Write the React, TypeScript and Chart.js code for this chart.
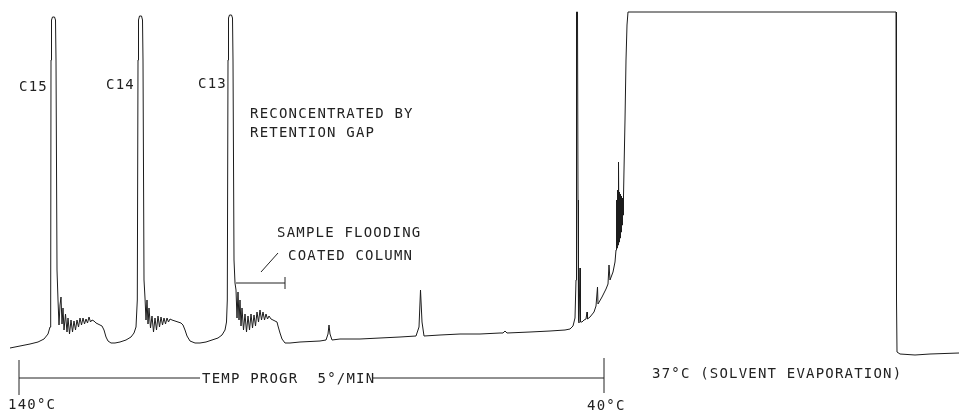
import React, { useEffect, useRef } from 'react';
import { Chart, registerables } from 'chart.js';

Chart.register(...registerables);

// x: position along the recording (chart units), signal: detector response (chart units)
const leftBaselineAndC15: [number, number][] = [
  [10, 52], [20, 54], [30, 56], [38, 58], [44, 61], [48, 66], [50, 73], [50.7, 100],
  [51, 340], [51.5, 380], [52.5, 383], [54.5, 383], [55.5, 380], [56, 340], [57, 130], [58, 100],
  [59, 75], [60, 95], [61, 103], [62, 76], [63, 92], [64, 70], [65.5, 86], [67, 68], [68, 82],
  [69.5, 66], [71, 80], [72.5, 68], [74, 79], [75.5, 70], [77, 80], [78.5, 73], [80, 82],
  [81.5, 75], [83, 82], [84.5, 76], [86, 81], [87.5, 77], [89, 83], [90.5, 78], [92, 80],
  [94, 79], [96, 77], [98, 76], [100, 75], [102, 74], [104, 70], [106, 63], [108, 59],
  [111, 57], [115, 57], [120, 58], [126, 60], [131, 63], [134, 67], [136, 73], [137.3, 100],
];

const c14Peak: [number, number][] = [
  [138, 340], [138.5, 380], [139.5, 384], [141.5, 384], [142.5, 380], [143, 340], [144, 120], [145, 102],
  [146, 80], [147, 100], [148, 76], [149, 92], [150.5, 72], [152, 84], [153.5, 68], [155, 82],
  [156.5, 70], [158, 84], [159.5, 73], [161, 83], [162.5, 75], [164, 82], [165.5, 76], [167, 82],
  [168.5, 78], [170, 81], [172, 80], [175, 79], [178, 78], [181, 77], [183, 75], [185, 70],
  [187, 64], [190, 59], [195, 57], [200, 57], [206, 58], [212, 60], [218, 62], [222, 65],
  [225, 70], [226.5, 78], [227.3, 100],
];

const c13Peak: [number, number][] = [
  [228, 340], [228.5, 382], [229.5, 385], [231.5, 385], [232.5, 382], [233, 340], [234, 140],
  [235, 117], [236, 110], [237, 82], [238, 108], [239, 80], [240, 100], [241, 74], [242, 92],
  [243.5, 70], [245, 86], [246.5, 68], [248, 84], [249.5, 70], [251, 86], [252.5, 72], [254, 85],
  [255.5, 74], [257, 88], [258.5, 78], [260, 90], [261.5, 80], [263, 88], [264.5, 80], [266, 86],
  [267.5, 81], [269, 84], [271, 81], [273, 80], [275, 79], [277, 78], [278, 74], [280, 67],
  [282, 61], [285, 57],
];

const midBaseline: [number, number][] = [
  [290, 57], [300, 58], [320, 59], [326, 60], [328, 66], [329, 75], [330, 66], [332, 60],
  [340, 61], [360, 61], [380, 62], [400, 63], [416, 64], [419, 73], [420.5, 110], [422, 78],
  [424, 64], [440, 65], [460, 66], [480, 66], [500, 67], [503, 67], [505, 69], [507, 67],
  [530, 68], [550, 69], [565, 70], [570, 71], [573, 74], [575, 82],
];

const solventFront: [number, number][] = [
  [576, 120], [576.5, 388], [577.5, 388], [578, 200], [578.5, 80], [579, 77], [580, 132],
  [580.5, 78], [582, 78], [584, 80], [586, 81], [587, 88], [587.5, 81], [590, 83], [594, 88],
  [596, 94], [597.5, 113], [598, 96], [602, 103], [606, 111], [608, 116], [609, 135],
  [610, 120], [613, 128], [615, 138], [616, 150], [616.5, 200], [617, 152], [617.5, 210],
  [618, 155], [618.5, 238], [619, 158], [619.5, 208], [620, 162], [620.5, 206], [621, 168],
  [621.5, 204], [622, 175], [622.5, 202], [623, 185], [623.5, 204], [624, 230], [625, 280],
  [626, 340], [627, 375], [628, 388],
];

const plateauAndEnd: [number, number][] = [
  [700, 388], [800, 388], [896, 388], [896.5, 100], [897, 48], [900, 46], [915, 45],
  [930, 46], [959, 47],
];

const traceSegments = [leftBaselineAndC15, c14Peak, c13Peak, midBaseline, solventFront, plateauAndEnd];

// annotation text: [text, left x, centre signal]
const labelTexts: [string, number, number][] = [
  ['C15', 19, 314],
  ['C14', 106, 316],
  ['C13', 198, 317],
  ['RECONCENTRATED BY', 250, 287],
  ['RETENTION GAP', 250, 268],
  ['SAMPLE FLOODING', 277, 168],
  ['COATED COLUMN', 288, 145],
  ['TEMP PROGR  5°/MIN', 202, 22],
  ['37°C (SOLVENT EVAPORATION)', 652, 27],
  ['140°C', 8, -4],
  ['40°C', 587, -5],
];

// annotation strokes: [x1, s1, x2, s2]
const labelLines: [number, number, number, number][] = [
  [261, 128, 278, 147],
  [236, 117, 285, 117],
  [285, 123, 285, 111],
  [19, 22, 200, 22],
  [373, 22, 604, 22],
  [19, 40, 19, 5],
  [604, 42, 604, 7],
];

const annotationPlugin = {
  id: 'chromAnnotations',
  afterDatasetsDraw(chart: any) {
    const { ctx, scales } = chart;
    const xs = scales.x;
    const ys = scales.y;
    ctx.save();
    ctx.strokeStyle = '#222';
    ctx.lineWidth = 1;
    labelLines.forEach(([x1, s1, x2, s2]) => {
      ctx.beginPath();
      ctx.moveTo(xs.getPixelForValue(x1), ys.getPixelForValue(s1));
      ctx.lineTo(xs.getPixelForValue(x2), ys.getPixelForValue(s2));
      ctx.stroke();
    });
    ctx.fillStyle = '#222';
    ctx.font = '14px "DejaVu Sans Mono", monospace';
    try {
      (ctx as any).letterSpacing = '1.2px';
    } catch (e) {}
    ctx.textAlign = 'left';
    ctx.textBaseline = 'alphabetic';
    labelTexts.forEach(([t, x, s]) => {
      ctx.fillText(t, xs.getPixelForValue(x), ys.getPixelForValue(s) + 5);
    });
    ctx.restore();
  },
};

export default function App() {
  const ref = useRef<HTMLCanvasElement>(null);
  useEffect(() => {
    document.body.style.margin = '0';
    const canvas = ref.current;
    if (!canvas) return;
    const points = traceSegments.flat().map(([x, y]) => ({ x, y }));
    const chart = new Chart(canvas, {
      type: 'line',
      data: {
        datasets: [
          {
            label: 'Detector signal',
            data: points,
            borderColor: '#1c1c1c',
            borderWidth: 1,
            pointRadius: 0,
            tension: 0,
            fill: false,
          },
        ],
      },
      options: {
        animation: false,
        responsive: false,
        devicePixelRatio: 1,
        layout: { padding: 0 },
        plugins: { legend: { display: false }, tooltip: { enabled: false } },
        scales: {
          x: { type: 'linear', display: false, min: 0, max: 959 },
          y: { type: 'linear', display: false, min: -12, max: 400 },
        },
      },
      plugins: [annotationPlugin],
    });
    return () => chart.destroy();
  }, []);
  return (
    <div style={{ width: 959, height: 412, background: '#fff' }}>
      <canvas ref={ref} width={959} height={412} style={{ display: 'block' }} />
    </div>
  );
}
